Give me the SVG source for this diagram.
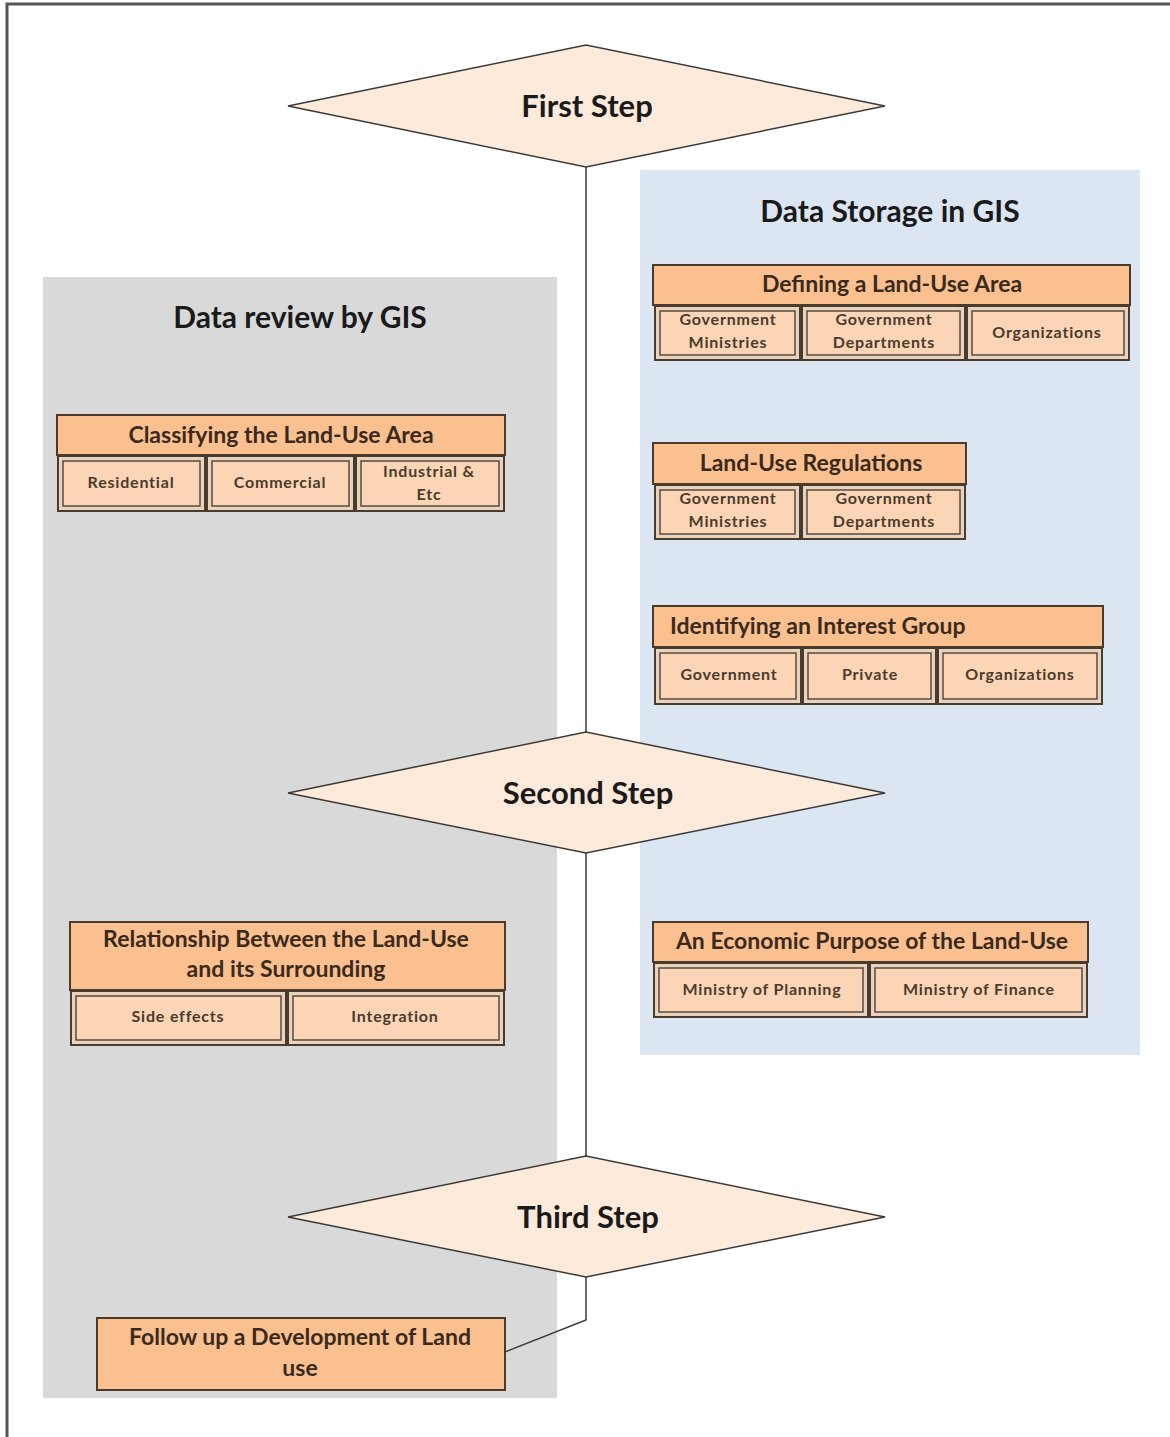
<svg xmlns="http://www.w3.org/2000/svg" width="1170" height="1437" viewBox="0 0 1170 1437">
<defs>
<style>
.frame{fill:none;stroke:#555;stroke-width:3}
.panel-g{fill:#d9d9d9}
.panel-b{fill:#dce6f2}
.dia{fill:#fdeada;stroke:#3a3a3a;stroke-width:1.5}
.dia-t{font-family:Lato,"Liberation Sans",sans-serif;font-weight:bold;font-size:31px;fill:#1a1a1a;text-anchor:middle}
.ptitle{font-family:Lato,"Liberation Sans",sans-serif;font-weight:bold;font-size:30px;fill:#1a1a1a;text-anchor:middle}
.hdr{fill:#fac090;stroke:#4a3b2c;stroke-width:2}
.hdr-t{font-family:Lato,"Liberation Sans",sans-serif;font-weight:bold;font-size:23px;fill:#3a2a1c;text-anchor:middle}
.sub{fill:#e8d3c0;stroke:#4a3b2c;stroke-width:2}
.sub-in{fill:#fbd5b5;stroke:#5a4a3a;stroke-width:1.5}
.sub-t{font-family:Lato,"Liberation Sans",sans-serif;font-weight:bold;font-size:16px;letter-spacing:0.8px;fill:#4a3b2c;text-anchor:middle}
.conn{fill:none;stroke:#3a3a3a;stroke-width:1.5}
</style>
</defs>
<rect width="1170" height="1437" fill="#ffffff"/>
<path class="frame" d="M7,1437 V4 H1170"/>
<rect class="panel-g" x="43" y="277" width="514" height="1121"/>
<rect class="panel-b" x="640" y="170" width="500" height="885"/>
<text class="ptitle" x="890" y="222">Data Storage in GIS</text>
<text class="ptitle" x="300" y="328">Data review by GIS</text>

<g id="connectors">
<path class="conn" d="M586,167 V732"/>
<path class="conn" d="M586,853 V1156"/>
<path class="conn" d="M586,1277 V1320 L505,1352"/>
</g>

<g id="step1">
<polygon class="dia" points="288,106 586,45 885,106 586,167"/>
<text class="dia-t" x="587" y="117">First Step</text>
</g>
<g id="step2">
<polygon class="dia" points="288,793 586,732 885,793 586,853"/>
<text class="dia-t" x="588" y="804">Second Step</text>
</g>
<g id="step3">
<polygon class="dia" points="288,1217 586,1156 885,1217 586,1277"/>
<text class="dia-t" x="588" y="1228">Third Step</text>
</g>

<g id="defining">
<rect class="hdr" x="653" y="265" width="477" height="40"/>
<text class="hdr-t" x="892" y="292">Defining a Land-Use Area</text>
<rect class="sub" x="655" y="306" width="145" height="54"/><rect class="sub-in" x="660" y="311" width="135" height="44"/>
<text class="sub-t" x="728" y="325">Government</text><text class="sub-t" x="728" y="348">Ministries</text>
<rect class="sub" x="802" y="306" width="163" height="54"/><rect class="sub-in" x="807" y="311" width="153" height="44"/>
<text class="sub-t" x="884" y="325">Government</text><text class="sub-t" x="884" y="348">Departments</text>
<rect class="sub" x="967" y="306" width="162" height="54"/><rect class="sub-in" x="972" y="311" width="152" height="44"/>
<text class="sub-t" x="1047" y="338">Organizations</text>
</g>

<g id="classifying">
<rect class="hdr" x="57" y="415" width="448" height="40"/>
<text class="hdr-t" x="281" y="443">Classifying the Land-Use Area</text>
<rect class="sub" x="58" y="456" width="147" height="55"/><rect class="sub-in" x="63" y="461" width="137" height="45"/>
<text class="sub-t" x="131" y="488">Residential</text>
<rect class="sub" x="207" y="456" width="147" height="55"/><rect class="sub-in" x="212" y="461" width="137" height="45"/>
<text class="sub-t" x="280" y="488">Commercial</text>
<rect class="sub" x="356" y="456" width="148" height="55"/><rect class="sub-in" x="361" y="461" width="138" height="45"/>
<text class="sub-t" x="429" y="477">Industrial &amp;</text><text class="sub-t" x="429" y="500">Etc</text>
</g>

<g id="regulations">
<rect class="hdr" x="653" y="443" width="313" height="41"/>
<text class="hdr-t" x="811" y="471">Land-Use Regulations</text>
<rect class="sub" x="655" y="485" width="145" height="54"/><rect class="sub-in" x="660" y="490" width="135" height="44"/>
<text class="sub-t" x="728" y="504">Government</text><text class="sub-t" x="728" y="527">Ministries</text>
<rect class="sub" x="802" y="485" width="163" height="54"/><rect class="sub-in" x="807" y="490" width="153" height="44"/>
<text class="sub-t" x="884" y="504">Government</text><text class="sub-t" x="884" y="527">Departments</text>
</g>

<g id="interest">
<rect class="hdr" x="653" y="606" width="450" height="41"/>
<text class="hdr-t" x="670" y="634" style="text-anchor:start">Identifying an Interest Group</text>
<rect class="sub" x="655" y="648" width="146" height="56"/><rect class="sub-in" x="660" y="653" width="136" height="46"/>
<text class="sub-t" x="729" y="680">Government</text>
<rect class="sub" x="803" y="648" width="133" height="56"/><rect class="sub-in" x="808" y="653" width="123" height="46"/>
<text class="sub-t" x="870" y="680">Private</text>
<rect class="sub" x="938" y="648" width="164" height="56"/><rect class="sub-in" x="943" y="653" width="154" height="46"/>
<text class="sub-t" x="1020" y="680">Organizations</text>
</g>

<g id="relationship">
<rect class="hdr" x="70" y="922" width="435" height="68"/>
<text class="hdr-t" x="286" y="947">Relationship Between the Land-Use</text>
<text class="hdr-t" x="286" y="977">and its Surrounding</text>
<rect class="sub" x="71" y="991" width="215" height="54"/><rect class="sub-in" x="76" y="996" width="205" height="44"/>
<text class="sub-t" x="178" y="1022">Side effects</text>
<rect class="sub" x="288" y="991" width="216" height="54"/><rect class="sub-in" x="293" y="996" width="206" height="44"/>
<text class="sub-t" x="395" y="1022">Integration</text>
</g>

<g id="economic">
<rect class="hdr" x="653" y="922" width="435" height="40"/>
<text class="hdr-t" x="872" y="949">An Economic Purpose of the Land-Use</text>
<rect class="sub" x="654" y="963" width="214" height="54"/><rect class="sub-in" x="659" y="968" width="204" height="44"/>
<text class="sub-t" x="762" y="995">Ministry of Planning</text>
<rect class="sub" x="870" y="963" width="217" height="54"/><rect class="sub-in" x="875" y="968" width="207" height="44"/>
<text class="sub-t" x="979" y="995">Ministry of Finance</text>
</g>

<g id="followup">
<rect class="hdr" x="97" y="1318" width="408" height="72"/>
<text class="hdr-t" x="300" y="1345">Follow up a Development of Land</text>
<text class="hdr-t" x="300" y="1376">use</text>
</g>
</svg>
